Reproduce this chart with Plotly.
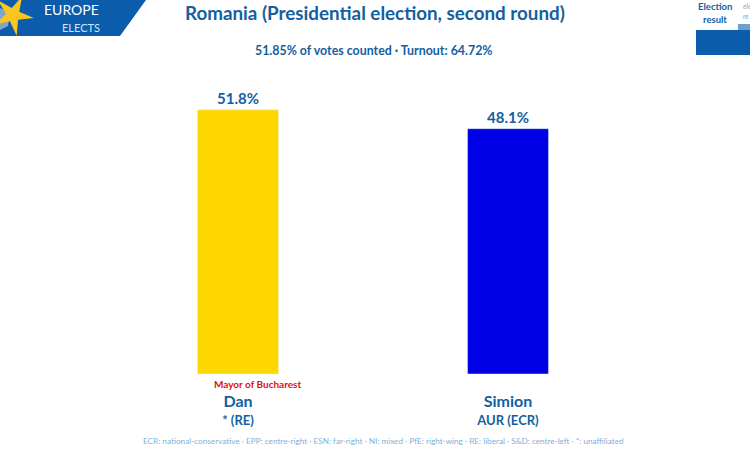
import math
import plotly.graph_objects as go

W, H = 750, 450
M_L, M_R, M_T, M_B = 103, 107, 68, 76

candidates = ['<span style="font-size:16px"><b>Dan</b></span><br><span style="font-size:13px"><b>* (RE)</b></span>',
              '<span style="font-size:16px"><b>Simion</b></span><br><span style="font-size:13px"><b>AUR (ECR)</b></span>']
vote_share = [51.8, 48.1]
bar_colors = ['#FFD700', '#0000E6']
vote_labels = ['<b>51.8%</b>', '<b>48.1%</b>']

title_text = 'Romania (Presidential election, second round)'
subtitle_text = '51.85% of votes counted · Turnout: 64.72%'
footer_text = ('ECR: national-conservative · EPP: centre-right · ESN: far-right · NI: mixed · '
               'PfE: right-wing · RE: liberal · S&D: centre-left · *: unaffiliated')

FONT = 'Lato'
BLUE = '#14609F'


# page pixels -> paper coordinates
def px(x):
    return (x - M_L) / (W - M_L - M_R)


def py(y):
    return 1 - (y - M_T) / (H - M_T - M_B)


def path(points):
    return 'M ' + ' L '.join('{:.4f},{:.4f}'.format(px(x), py(y)) for x, y in points) + ' Z'


def star(cx, cy, r_out, r_in, rot=0):
    pts = []
    for i in range(10):
        r = r_out if i % 2 == 0 else r_in
        a = math.radians(-90 + rot + i * 36)
        pts.append((cx + r * math.cos(a), cy + r * math.sin(a)))
    return pts


def page_text(x, y, text, size, color, bold=False, anchor='center', italic=False):
    if bold:
        text = '<b>' + text + '</b>'
    if italic:
        text = '<i>' + text + '</i>'
    return dict(x=px(x), y=py(y), xref='paper', yref='paper', text=text, showarrow=False,
                xanchor=anchor, yanchor='middle', font=dict(family=FONT, size=size, color=color))


fig = go.Figure()
fig.add_trace(go.Bar(x=[0, 1], y=vote_share, marker_color=bar_colors, width=0.3,
                     text=vote_labels, textposition='outside', cliponaxis=False,
                     textfont=dict(family=FONT, size=15, color=BLUE)))

shapes = [
    dict(type='path', path=path([(0, 0), (146, 0), (120, 36), (0, 36)]), fillcolor='#0B5CAB', line_width=0),
    dict(type='path', path=path([(0, 8), (10, 12), (8, 26), (0, 30)]), fillcolor='#7FA6CC', line_width=0),
    dict(type='path', path=path(star(13, 15, 21, 7, 26)), fillcolor='#FBC520', line_width=0),
    dict(type='rect', x0=px(696), x1=px(750), y0=py(55), y1=py(30), fillcolor='#0B5CAB', line_width=0),
    dict(type='rect', x0=px(738), x1=px(750), y0=py(30), y1=py(24), fillcolor='#6E9FD0', line_width=0),
]
for s in shapes:
    s.update(xref='paper', yref='paper', layer='above')

annotations = [
    page_text(374.5, 13, title_text, 18.8, BLUE, bold=True),
    page_text(373, 51, subtitle_text, 12.4, BLUE, bold=True),
    page_text(257, 384, 'Mayor of Bucharest', 10, '#E01010', bold=True),
    page_text(383, 441, footer_text, 8.2, '#7FB0D5'),
    page_text(42, 9, 'EUROPE', 14, '#FFFFFF', anchor='left'),
    page_text(60, 27, 'ELECTS', 11, '#D5E5F5', anchor='left'),
    page_text(715, 6, 'Election', 9.5, BLUE, bold=True),
    page_text(715, 19, 'result', 9.5, BLUE, bold=True),
    page_text(741, 6, 'ele', 7, '#7FA6CC', anchor='left', italic=True),
    page_text(741, 16, 're', 7, '#7FA6CC', anchor='left', italic=True),
]

fig.update_layout(
    width=W, height=H,
    margin=dict(l=M_L, r=M_R, t=M_T, b=M_B, pad=0),
    paper_bgcolor='white', plot_bgcolor='white',
    showlegend=False,
    shapes=shapes,
    annotations=annotations,
    xaxis=dict(range=[-0.5, 1.5], tickmode='array', tickvals=[0, 1], ticktext=candidates,
               showgrid=False, zeroline=False, showline=False, ticks='', ticklabelstandoff=18,
               tickfont=dict(family=FONT, size=14, color=BLUE)),
    yaxis=dict(range=[0, 60], visible=False),
)

# default page has an 8px body margin that would push the figure off the window
fig.write_html("out.html", config=dict(displayModeBar=False),
               post_script="document.body.style.margin='0';")
